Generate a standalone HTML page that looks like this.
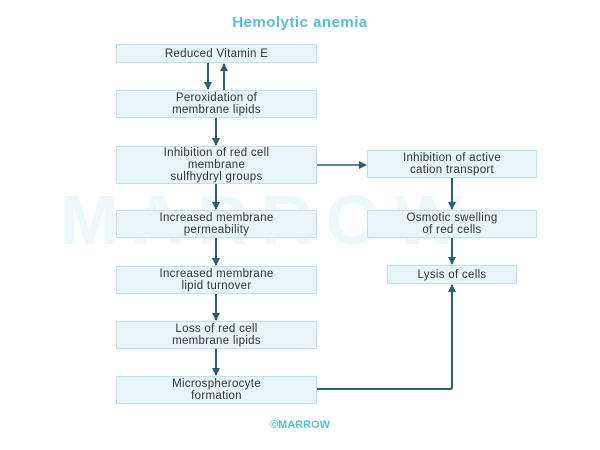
<!DOCTYPE html>
<html><head><style>
body{margin:0;background:#fff;width:600px;height:450px;position:relative;overflow:hidden;font-family:"Liberation Sans",sans-serif;}
.b{position:absolute;background:#e5f5f8;border:1px solid #bde2ea;box-sizing:border-box;display:flex;align-items:center;justify-content:center;text-align:center;font-size:11.5px;line-height:12px;color:#333;letter-spacing:0.3px}
.t{position:absolute;left:0;width:600px;text-align:center;top:14px;font-weight:bold;font-size:15px;color:#5bbfcf;letter-spacing:0.5px}
.wm{position:absolute;left:60px;top:180px;font-size:70px;color:#eef8fa;letter-spacing:14px;font-weight:bold}
.f{position:absolute;left:0;width:600px;text-align:center;top:419px;font-weight:bold;font-size:11px;color:#5bbfcf}
</style></head><body>
<div class="wm">MARROW</div>
<div class="t">Hemolytic anemia</div>
<div class="b" style="left:116px;top:44px;width:201px;height:19px">Reduced Vitamin E</div>
<div class="b" style="left:116px;top:90px;width:201px;height:28px">Peroxidation of<br>membrane lipids</div>
<div class="b" style="left:116px;top:146px;width:201px;height:38px">Inhibition of red cell<br>membrane<br>sulfhydryl groups</div>
<div class="b" style="left:116px;top:210px;width:201px;height:28px">Increased membrane<br>permeability</div>
<div class="b" style="left:116px;top:266px;width:201px;height:28px">Increased membrane<br>lipid turnover</div>
<div class="b" style="left:116px;top:321px;width:201px;height:28px">Loss of red cell<br>membrane lipids</div>
<div class="b" style="left:116px;top:376px;width:201px;height:28px">Microspherocyte<br>formation</div>
<div class="b" style="left:367px;top:150px;width:170px;height:28px">Inhibition of active<br>cation transport</div>
<div class="b" style="left:367px;top:210px;width:170px;height:28px">Osmotic swelling<br>of red cells</div>
<div class="b" style="left:387px;top:265px;width:130px;height:19px">Lysis of cells</div>
<div class="f">©MARROW</div>
<svg width="600" height="450" style="position:absolute;left:0;top:0">
<defs><marker id="a" markerWidth="8" markerHeight="8" refX="7" refY="4" orient="auto" markerUnits="userSpaceOnUse"><path d="M0,0L8,4L0,8z" fill="#2e5f6e"/></marker></defs>
<g stroke="#2e5f6e" stroke-width="2" fill="none" marker-end="url(#a)">
<line x1="208" y1="63" x2="208" y2="89"/>
<line x1="224" y1="90" x2="224" y2="64"/>
<line x1="216" y1="118" x2="216" y2="145"/>
<line x1="216" y1="184" x2="216" y2="209"/>
<line x1="216" y1="238" x2="216" y2="265"/>
<line x1="216" y1="294" x2="216" y2="320"/>
<line x1="216" y1="349" x2="216" y2="375"/>
<line x1="317" y1="165" x2="366" y2="165" stroke-width="1.5"/>
<line x1="452" y1="178" x2="452" y2="209"/>
<line x1="452" y1="238" x2="452" y2="264"/>
<path d="M317,389H450Q452,389 452,387V285"/>
</g></svg>
</body></html>
